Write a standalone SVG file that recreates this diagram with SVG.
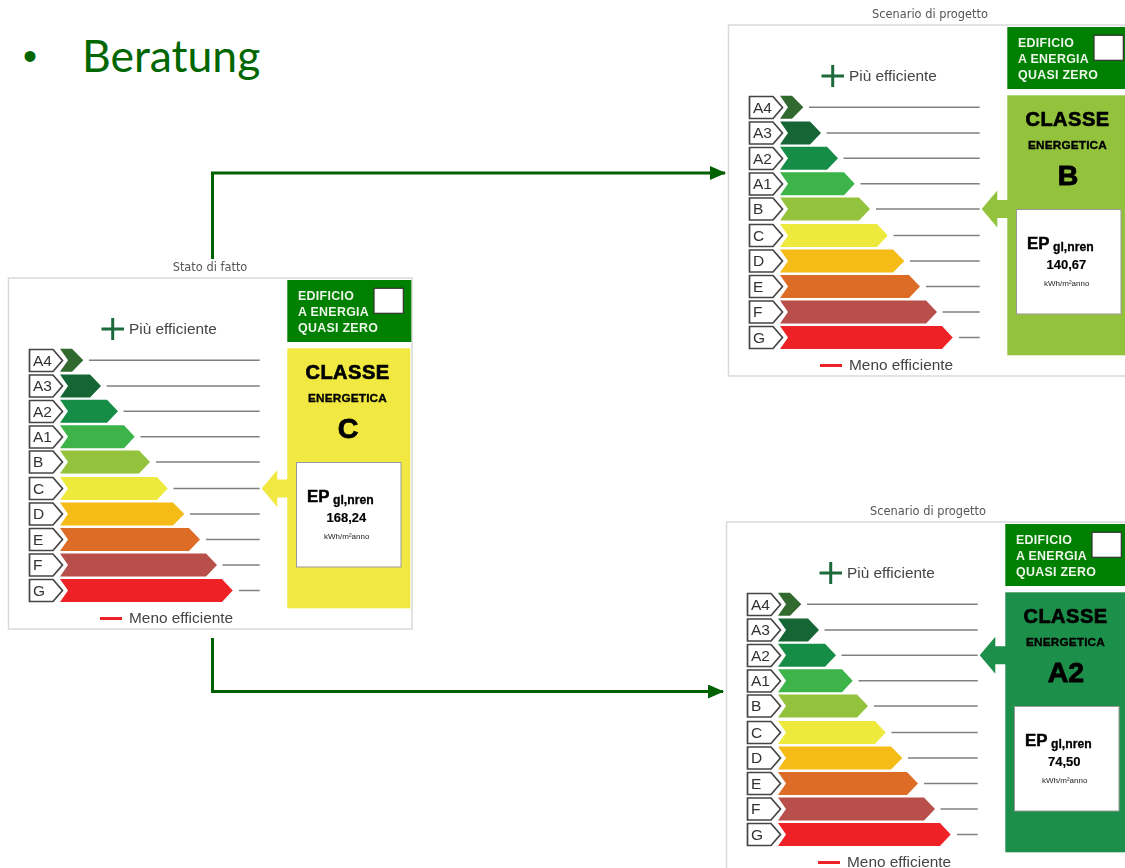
<svg xmlns="http://www.w3.org/2000/svg" width="1125" height="868" viewBox="0 0 1125 868">
<style>
text{font-family:"Liberation Sans",Arial,sans-serif}
.cap{font-family:"DejaVu Sans",sans-serif;font-size:11.4px;fill:#555;text-anchor:middle}
.eff{font-size:15.400px;fill:#444}
.lab{font-size:15.500px;fill:#333}
.hd{font-size:12.400px;font-weight:bold;fill:#eef6ea;letter-spacing:.3px}
.k{fill:#000;font-weight:bold;stroke:#000}
.mid{text-anchor:middle}
.cl{font-size:20px;stroke-width:.7;letter-spacing:.5px}
.en{font-size:11.800px;stroke-width:.35;letter-spacing:.15px}
.big{font-size:28.500px;stroke-width:.9}
.ep{font-size:16.800px;stroke-width:.5}
.gl{font-size:12.200px;stroke-width:.3}
.v{font-size:13px;stroke-width:.15}
.u{font-size:8px;fill:#222;text-anchor:middle}
.frame{fill:#fff;stroke:#d9d9d9;stroke-width:1.5}
.tag{fill:#fff;stroke:#444;stroke-width:1.7}
.ln{stroke:#808080;stroke-width:1.5;fill:none}
.conn{fill:none;stroke:#006100;stroke-width:3}
</style>
<defs>
<filter id="soft" x="-2%" y="-2%" width="104%" height="104%"><feGaussianBlur stdDeviation="0.35"/></filter>
<marker id="ah" markerUnits="userSpaceOnUse" markerWidth="16" markerHeight="14" refX="15" refY="7" orient="auto"><path d="M0 0L16 7L0 14z" fill="#006100"/></marker>
<g id="scale">
<g class="tags">
<path class="tag" d="M29.500 349.500H53L62.500 360.500L53 371.500H29.500z"/>
<path class="tag" d="M29.500 375H53L62.500 386L53 397H29.500z"/>
<path class="tag" d="M29.500 400.500H53L62.500 411.500L53 422.500H29.500z"/>
<path class="tag" d="M29.500 426H53L62.500 437L53 448H29.500z"/>
<path class="tag" d="M29.500 451H53L62.500 462L53 473H29.500z"/>
<path class="tag" d="M29.500 477.500H53L62.500 488.500L53 499.500H29.500z"/>
<path class="tag" d="M29.500 503H53L62.500 514L53 525H29.500z"/>
<path class="tag" d="M29.500 528.500H53L62.500 539.500L53 550.500H29.500z"/>
<path class="tag" d="M29.500 554H53L62.500 565L53 576H29.500z"/>
<path class="tag" d="M29.500 579.500H53L62.500 590.500L53 601.500H29.500z"/>
</g>
<path fill="#33692f" d="M60 348.800H72L83.300 360.300L72 371.800H60L68 360.300z"/>
<path fill="#136534" d="M60 374.500H90L101 386L90 397.500H60L68 386z"/>
<path fill="#168d47" d="M60 399.800H107L118 411.300L107 422.800H60L68 411.300z"/>
<path fill="#3cb44a" d="M60 425.300H124L134.700 436.800L124 448.300H60L68 436.800z"/>
<path fill="#93c33c" d="M60 450.500H139L150 462L139 473.500H60L68 462z"/>
<path fill="#eeea3e" d="M60 477H157L167.700 488.500L157 500H60L68 488.500z"/>
<path fill="#f5bb18" d="M60 502.500H173L184.300 514L173 525.500H60L68 514z"/>
<path fill="#dd6c26" d="M60 528H189L200 539.500L189 551H60L68 539.500z"/>
<path fill="#b84f4b" d="M60 553.500H206L217 565L206 576.500H60L68 565z"/>
<path fill="#ee2328" d="M60 579H222L232.700 590.500L222 602H60L68 590.500z"/>
<path class="ln" d="M89 360.300H259.700M106.500 386H259.700M123.500 411.300H259.700M140.500 436.800H259.700M156 462H259.700M173.500 488.500H259.700M190 514H259.700M206 539.500H259.700M222.500 565H259.700M239 590.500H259.700"/>
<path stroke="#1f6b3a" stroke-width="3" fill="none" d="M101.500 329H124M112.700 318V340"/>
<path stroke="#ee2328" stroke-width="3" fill="none" d="M100 618.500H122"/>
</g>
<g id="head">
<rect x="287.300" y="280" width="124" height="62" fill="#008000"/>
<rect x="374" y="288.300" width="29.300" height="25" fill="#fff" stroke="#333" stroke-width="1.200"/>
</g>
<rect id="epbox" x="296.500" y="462.500" width="104.500" height="104.500" fill="#fff" stroke="#999" stroke-width="1"/>
</defs>

<g id="title">
<text x="23" y="70" font-size="40" fill="#006600">•</text>
<text x="82" y="72" font-size="44.500" fill="#006600" style="font-family:Lato,'Open Sans',sans-serif">Beratung</text>
</g>

<g id="connectors">
<path class="conn" marker-end="url(#ah)" d="M212.500 259V173H725"/>
<path class="conn" marker-end="url(#ah)" d="M212.500 638V691.500H723"/>
</g>

<g id="node-stato" filter="url(#soft)">
<text class="cap" x="210" y="271">Stato di fatto</text>
<rect class="frame" x="8.500" y="278" width="403.500" height="351"/>
<use href="#scale"/><use href="#head"/>
<rect x="287.300" y="348.300" width="123" height="260" fill="#f1e942"/>
<path fill="#f1e942" d="M261.700 488.500L277.300 470V479.500H288V497.500H277.300V507z"/>
<use href="#epbox"/>
<text class="hd" x="298" y="300">EDIFICIO</text><text class="hd" x="298" y="315.500">A ENERGIA</text><text class="hd" x="298" y="331.500">QUASI ZERO</text>
<text class="eff" x="129" y="334">Più efficiente</text><text class="eff" x="129" y="622.500">Meno efficiente</text>
<text class="lab" x="33" y="365.500">A4</text><text class="lab" x="33" y="391">A3</text><text class="lab" x="33" y="416.500">A2</text><text class="lab" x="33" y="442">A1</text><text class="lab" x="33" y="467">B</text><text class="lab" x="33" y="493.500">C</text><text class="lab" x="33" y="519">D</text><text class="lab" x="33" y="544.500">E</text><text class="lab" x="33" y="570">F</text><text class="lab" x="33" y="595.500">G</text>
<text class="k mid cl" x="347.500" y="379">CLASSE</text>
<text class="k mid en" x="347.500" y="402">ENERGETICA</text>
<text class="k mid big" x="348" y="438">C</text>
<text class="k ep" x="307" y="502">EP</text>
<text class="k gl" x="333" y="504">gl,nren</text>
<text class="k v" x="326.500" y="522">168,24</text>
<text class="u" x="346.700" y="539">kWh/m²anno</text>
</g>

<g id="node-progetto-b" transform="translate(720 -253)" filter="url(#soft)">
<text class="cap" x="210" y="271">Scenario di progetto</text>
<rect class="frame" x="8.500" y="278" width="403.500" height="351"/>
<use href="#scale"/><use href="#head"/>
<rect x="287.300" y="348.300" width="123" height="260" fill="#93c33c"/>
<path fill="#93c33c" d="M261.700 462L277.300 443.500V453H288V471H277.300V480.500z"/>
<use href="#epbox"/>
<text class="hd" x="298" y="300">EDIFICIO</text><text class="hd" x="298" y="315.500">A ENERGIA</text><text class="hd" x="298" y="331.500">QUASI ZERO</text>
<text class="eff" x="129" y="334">Più efficiente</text><text class="eff" x="129" y="622.500">Meno efficiente</text>
<text class="lab" x="33" y="365.500">A4</text><text class="lab" x="33" y="391">A3</text><text class="lab" x="33" y="416.500">A2</text><text class="lab" x="33" y="442">A1</text><text class="lab" x="33" y="467">B</text><text class="lab" x="33" y="493.500">C</text><text class="lab" x="33" y="519">D</text><text class="lab" x="33" y="544.500">E</text><text class="lab" x="33" y="570">F</text><text class="lab" x="33" y="595.500">G</text>
<text class="k mid cl" x="347.500" y="379">CLASSE</text>
<text class="k mid en" x="347.500" y="402">ENERGETICA</text>
<text class="k mid big" x="348" y="438">B</text>
<text class="k ep" x="307" y="502">EP</text>
<text class="k gl" x="333" y="504">gl,nren</text>
<text class="k v" x="326.500" y="522">140,67</text>
<text class="u" x="346.700" y="539">kWh/m²anno</text>
</g>

<g id="node-progetto-a2" transform="translate(718 244)" filter="url(#soft)">
<text class="cap" x="210" y="271">Scenario di progetto</text>
<rect class="frame" x="8.500" y="278" width="403.500" height="351"/>
<use href="#scale"/><use href="#head"/>
<rect x="287.300" y="348.300" width="123" height="260" fill="#1f8f4b"/>
<path fill="#1f8f4b" d="M261.700 411.300L277.300 392.800V402.300H288V420.300H277.300V429.800z"/>
<use href="#epbox"/>
<text class="hd" x="298" y="300">EDIFICIO</text><text class="hd" x="298" y="315.500">A ENERGIA</text><text class="hd" x="298" y="331.500">QUASI ZERO</text>
<text class="eff" x="129" y="334">Più efficiente</text><text class="eff" x="129" y="622.500">Meno efficiente</text>
<text class="lab" x="33" y="365.500">A4</text><text class="lab" x="33" y="391">A3</text><text class="lab" x="33" y="416.500">A2</text><text class="lab" x="33" y="442">A1</text><text class="lab" x="33" y="467">B</text><text class="lab" x="33" y="493.500">C</text><text class="lab" x="33" y="519">D</text><text class="lab" x="33" y="544.500">E</text><text class="lab" x="33" y="570">F</text><text class="lab" x="33" y="595.500">G</text>
<text class="k mid cl" x="347.500" y="379">CLASSE</text>
<text class="k mid en" x="347.500" y="402">ENERGETICA</text>
<text class="k mid big" x="348" y="438">A2</text>
<text class="k ep" x="307" y="502">EP</text>
<text class="k gl" x="333" y="504">gl,nren</text>
<text class="k v" x="330" y="522">74,50</text>
<text class="u" x="346.700" y="539">kWh/m²anno</text>
</g>
</svg>
